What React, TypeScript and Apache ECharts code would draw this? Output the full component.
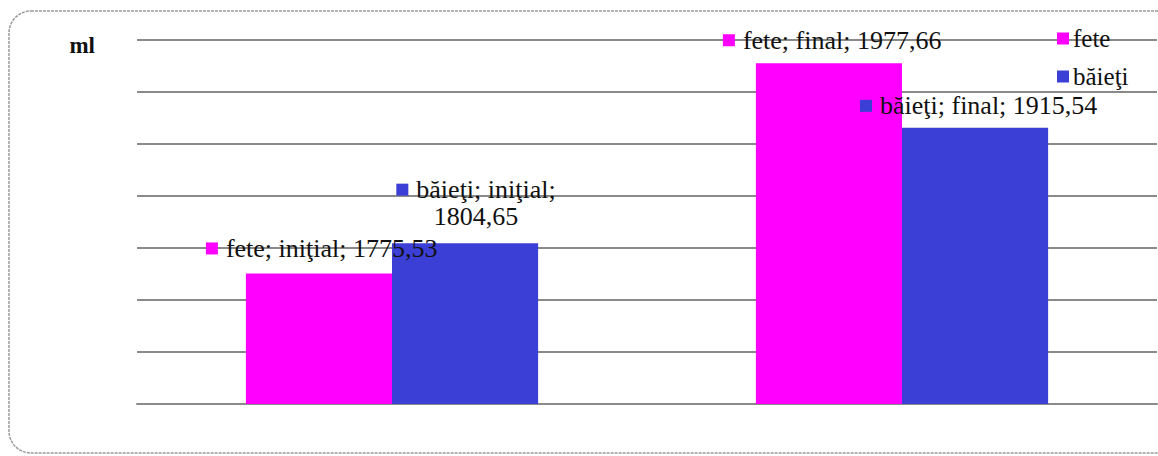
import React, { useEffect, useRef } from "react";
import * as echarts from "echarts";

const categories = ["iniţial", "final"];
const seriesNames = ["fete", "băieţi"];
const feteValues = [1775.53, 1977.66];
const baietiValues = [1804.65, 1915.54];
const colors = ["#FF00FF", "#3C3FD6"];

// label placement (style only)
const feteLabelPos = [[-40, -25], [-33, -23]];
const baietiLabelPos = [[84, -67], [-42, -22]];
const baietiWrap = [true, false];

const fmt = (v: number) => v.toFixed(2).replace(".", ",");

export default function App() {
  const ref = useRef<HTMLDivElement>(null);
  useEffect(() => {
    if (!ref.current) return;
    const chart = echarts.init(ref.current, undefined, { renderer: "svg" });
    const font = "'Liberation Serif', 'Times New Roman', serif";

    const makeData = (vals: number[], sIdx: number) =>
      vals.map((v, i) => {
        const wrap = sIdx === 1 && baietiWrap[i];
        const pos = sIdx === 0 ? feteLabelPos[i] : baietiLabelPos[i];
        const text = wrap
          ? `{m|}{s|}{t|${seriesNames[sIdx]}; ${categories[i]};}\n{t|${fmt(v)}}`
          : `{m|}{s|}{t|${seriesNames[sIdx]}; ${categories[i]}; ${fmt(v)}}`;
        return {
          value: v,
          label: {
            show: true,
            position: pos,
            align: wrap ? "center" : "left",
            verticalAlign: wrap ? "top" : "middle",
            formatter: text,
            rich: {
              m: { backgroundColor: colors[sIdx], width: 12, height: 12 },
              s: { width: 8, height: 12 },
              t: { fontFamily: font, fontSize: 26, color: "#111", lineHeight: wrap ? 27 : 20 },
            },
          },
        };
      });

    chart.setOption({
      animation: false,
      color: colors,
      grid: { left: 137, right: 1, top: 40, bottom: 52 },
      legend: {
        orient: "vertical",
        left: 1052,
        top: 21,
        icon: "rect",
        itemWidth: 12,
        itemHeight: 12,
        itemGap: 13,
        itemStyle: { borderWidth: 0 },
        textStyle: { fontFamily: font, fontSize: 25, color: "#111", lineHeight: 20, padding: [0, 0, 0, -1] },
        data: seriesNames,
      },
      xAxis: {
        type: "category",
        data: categories,
        axisLine: { show: true, lineStyle: { color: "#8a8a8a", width: 2 } },
        axisTick: { show: false },
        axisLabel: { show: false },
      },
      yAxis: {
        type: "value",
        min: 1650,
        max: 2000,
        interval: 50,
        name: "ml",
        nameLocation: "end",
        nameGap: -5,
        nameTextStyle: {
          fontFamily: font,
          fontSize: 23,
          fontWeight: "bold",
          color: "#111",
          align: "right",
          verticalAlign: "middle",
          padding: [0, 42, 0, 0],
        },
        axisLine: { show: false },
        axisTick: { show: false },
        axisLabel: { show: false },
        splitLine: { show: true, lineStyle: { color: "#8a8a8a", width: 2 } },
      },
      series: [
        {
          name: seriesNames[0],
          type: "bar",
          barGap: "0%",
          barCategoryGap: "42.7%",
          data: makeData(feteValues, 0),
        },
        {
          name: seriesNames[1],
          type: "bar",
          barGap: "0%",
          barCategoryGap: "42.7%",
          data: makeData(baietiValues, 1),
        },
      ],
      graphic: [
        {
          type: "rect",
          shape: { x: 9, y: 11, width: 1180, height: 442, r: 22 },
          style: { fill: "none", stroke: "#9a9a9a", lineWidth: 1.5, lineDash: [3, 1] },
          silent: true,
        },
      ],
    });
    return () => chart.dispose();
  }, []);
  return (
    <div
      ref={ref}
      style={{ position: "fixed", left: 0, top: 0, width: 1158, height: 456, background: "#fff" }}
    />
  );
}
